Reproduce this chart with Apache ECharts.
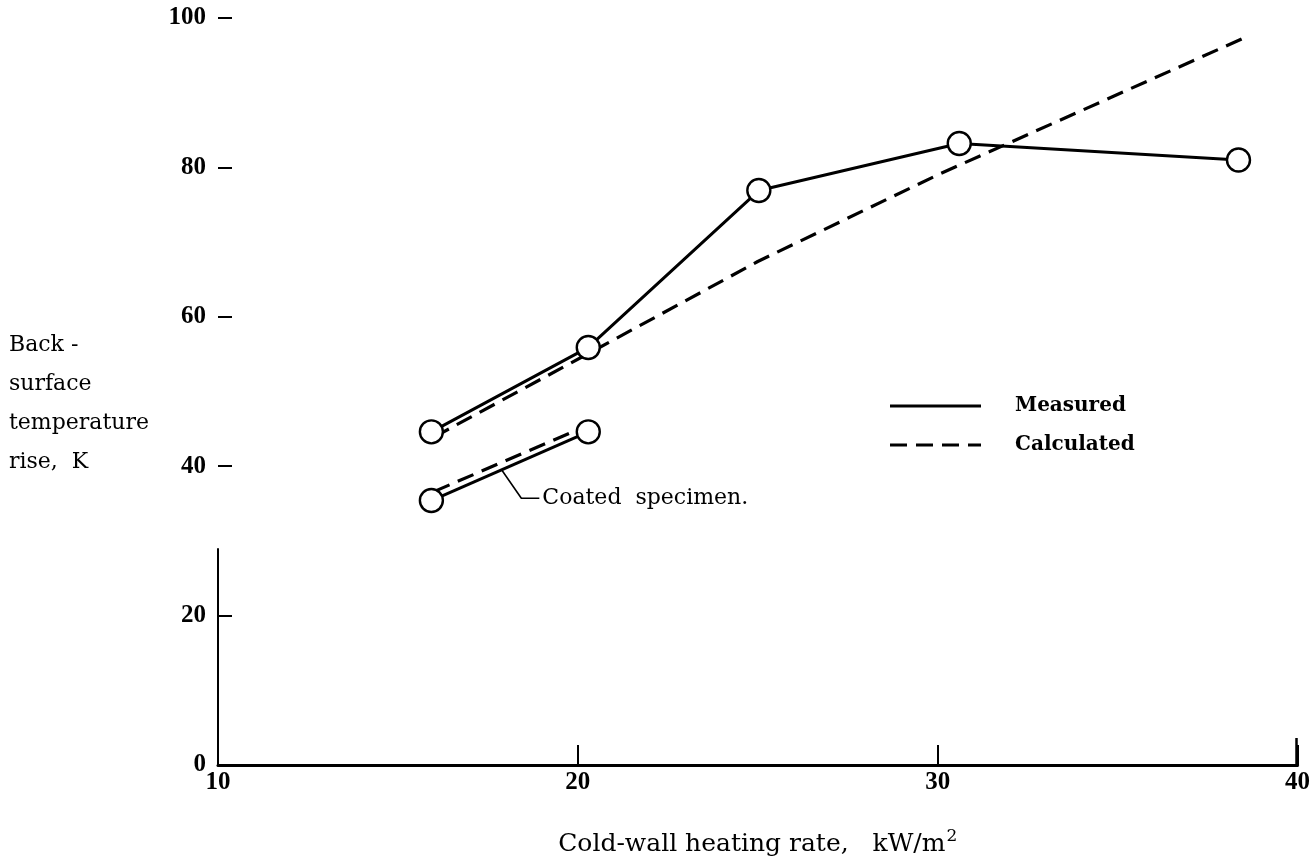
<!DOCTYPE html>
<html>
<head>
<meta charset="utf-8">
<script src="https://cdn.jsdelivr.net/npm/echarts@6/dist/echarts.min.js"></script>
<style>
html,body{margin:0;padding:0;background:#fff;}
#chart{width:1313px;height:862px;}
</style>
</head>
<body>
<div id="chart"></div>
<script>
// ---- data (x: cold-wall heating rate kW/m^2, y: temperature rise K) ----
var measured        = [[15.93, 44.6], [20.29, 55.9], [25.03, 76.9], [30.6, 83.2], [38.36, 81.0]];
var measuredCoated  = [[15.93, 35.4], [20.29, 44.6]];
var calculated      = [[16.0, 43.9], [20.3, 55.1], [25.0, 67.4], [30.0, 79.0], [38.5, 97.3]];
var calculatedCoated= [[16.0, 36.6], [20.2, 45.3]];
var leader          = [[17.9, 39.4], [18.43, 35.7], [18.93, 35.7]];
var yAxisStub       = [[10, 0], [10, 29]];
var xTicks = [10, 20, 30, 40];
var yTicks = [0, 20, 40, 60, 80, 100];
var legendNames = ['Measured', 'Calculated'];
var annotationText = 'Coated  specimen.';
var yTitle = 'Back -\nsurface\ntemperature\nrise,  K';
var xTitle = 'Cold-wall heating rate,   kW/m';

var chart = echarts.init(document.getElementById('chart'));
var serifB = 'Liberation Serif';
var serif = 'DejaVu Serif';

var option = {
  animation: false,
  backgroundColor: '#fff',
  grid: {left: 218, right: 13, top: 18, bottom: 95, containLabel: false},
  xAxis: {
    type: 'value', min: xTicks[0], max: xTicks[xTicks.length - 1], interval: 10,
    axisLine: {show: true, lineStyle: {color: '#000', width: 3}},
    axisTick: {show: true, inside: true, length: 20, lineStyle: {color: '#000', width: 2}},
    axisLabel: {color: '#000', fontFamily: serifB, fontWeight: 'bold', fontSize: 25, margin: 5},
    splitLine: {show: false},
    name: '{a|' + xTitle + '}{s|2}',
    nameLocation: 'middle', nameGap: 63,
    nameTextStyle: {
      rich: {
        a: {fontFamily: serif, fontSize: 25, color: '#000'},
        s: {fontFamily: serif, fontSize: 17, color: '#000', verticalAlign: 'top', padding: [0, 0, 16, 1]}
      }
    }
  },
  yAxis: {
    type: 'value', min: yTicks[0], max: yTicks[yTicks.length - 1], interval: 20,
    axisLine: {show: false},
    axisTick: {show: true, inside: true, length: 14, lineStyle: {color: '#000', width: 2}},
    axisLabel: {color: '#000', fontFamily: serifB, fontWeight: 'bold', fontSize: 25, margin: 12},
    splitLine: {show: false}
  },
  series: [
    {
      name: 'yAxisStub', type: 'line', data: yAxisStub, symbol: 'none', silent: true,
      lineStyle: {color: '#000', width: 2}, z: 1
    },
    {
      name: 'Calculated', type: 'line', data: calculated, symbol: 'none',
      lineStyle: {color: '#000', width: 3.2, type: [17, 9]}, z: 2
    },
    {
      name: 'Calculated coated', type: 'line', data: calculatedCoated, symbol: 'none',
      lineStyle: {color: '#000', width: 3.2, type: [17, 9]}, z: 2
    },
    {
      name: 'leader', type: 'line', data: leader, symbol: 'none', silent: true,
      lineStyle: {color: '#000', width: 1.6}, z: 2,
      label: {show: false},
      endLabel: {
        show: true, formatter: annotationText, color: '#000',
        fontFamily: serif, fontSize: 22, distance: 3
      }
    },
    {
      name: 'Measured', type: 'line', data: measured,
      symbol: 'circle', symbolSize: 23, showAllSymbol: true,
      itemStyle: {color: '#fff', borderColor: '#000', borderWidth: 2.4},
      lineStyle: {color: '#000', width: 3}, z: 5
    },
    {
      name: 'Measured coated', type: 'line', data: measuredCoated,
      symbol: 'circle', symbolSize: 23, showAllSymbol: true,
      itemStyle: {color: '#fff', borderColor: '#000', borderWidth: 2.4},
      lineStyle: {color: '#000', width: 3}, z: 5
    }
  ],
  graphic: [
    {type: 'text', left: 9, top: 326,
     style: {text: yTitle, fontFamily: serif, fontSize: 22, lineHeight: 39, fill: '#000'}},
    {type: 'line', shape: {x1: 890, y1: 406, x2: 981, y2: 406},
     style: {stroke: '#000', lineWidth: 3}},
    {type: 'line', shape: {x1: 890, y1: 445, x2: 981, y2: 445},
     style: {stroke: '#000', lineWidth: 3.2, lineDash: [17, 9]}},
    {type: 'text', left: 1015, top: 396,
     style: {text: legendNames[0], fontFamily: serif, fontWeight: 'bold', fontSize: 20, fill: '#000'}},
    {type: 'text', left: 1015, top: 435,
     style: {text: legendNames[1], fontFamily: serif, fontWeight: 'bold', fontSize: 20, fill: '#000'}}
  ]
};
chart.setOption(option);
// longer closing tick at right end of the x axis
var p0 = chart.convertToPixel({gridIndex: 0}, [xTicks[xTicks.length - 1], 0]);
chart.setOption({graphic: option.graphic.concat([
  {type: 'line', shape: {x1: p0[0] - 1, y1: p0[1], x2: p0[0] - 1, y2: p0[1] - 27},
   style: {stroke: '#000', lineWidth: 2.5}}
])});
</script>
</body>
</html>
